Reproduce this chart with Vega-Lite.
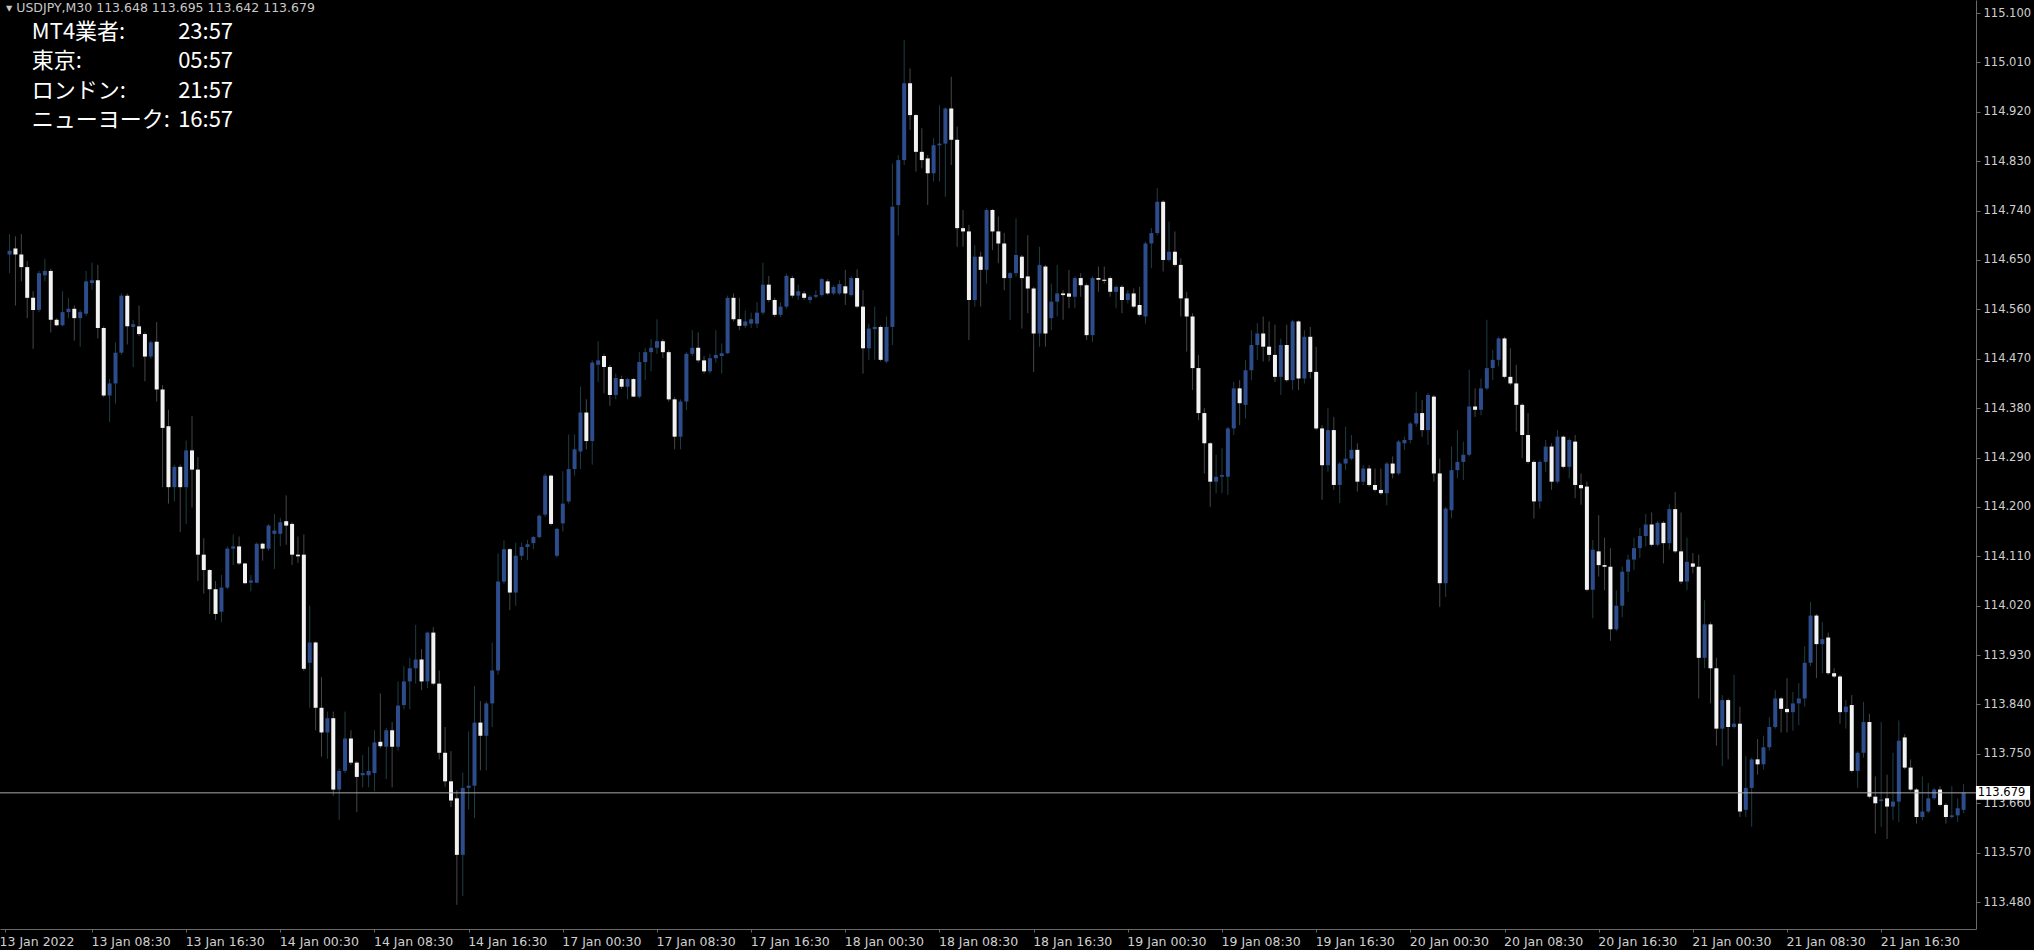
{
"$schema": "https://vega.github.io/schema/vega-lite/v6.json",
"width": 1976, "height": 929,
"autosize": "none",
"padding": {"left": 0, "top": 0, "right": 58, "bottom": 21},
"background": "#000000",
"config": {"view": {"stroke": null}},
"datasets": {"bars": [
{"i":0,"o":114.660,"h":114.697,"l":114.626,"c":114.667},
{"i":1,"o":114.671,"h":114.693,"l":114.567,"c":114.660},
{"i":2,"o":114.660,"h":114.697,"l":114.611,"c":114.637},
{"i":3,"o":114.637,"h":114.648,"l":114.544,"c":114.581},
{"i":4,"o":114.581,"h":114.593,"l":114.488,"c":114.559},
{"i":5,"o":114.559,"h":114.630,"l":114.555,"c":114.626},
{"i":6,"o":114.622,"h":114.652,"l":114.611,"c":114.630},
{"i":7,"o":114.630,"h":114.634,"l":114.518,"c":114.541},
{"i":8,"o":114.541,"h":114.544,"l":114.529,"c":114.531},
{"i":9,"o":114.531,"h":114.593,"l":114.529,"c":114.555},
{"i":10,"o":114.555,"h":114.581,"l":114.544,"c":114.561},
{"i":11,"o":114.561,"h":114.567,"l":114.503,"c":114.544},
{"i":12,"o":114.544,"h":114.559,"l":114.492,"c":114.555},
{"i":13,"o":114.552,"h":114.630,"l":114.548,"c":114.611},
{"i":14,"o":114.608,"h":114.645,"l":114.596,"c":114.613},
{"i":15,"o":114.613,"h":114.641,"l":114.507,"c":114.526},
{"i":16,"o":114.526,"h":114.529,"l":114.400,"c":114.403},
{"i":17,"o":114.403,"h":114.433,"l":114.355,"c":114.425},
{"i":18,"o":114.425,"h":114.500,"l":114.388,"c":114.481},
{"i":19,"o":114.481,"h":114.589,"l":114.477,"c":114.585},
{"i":20,"o":114.585,"h":114.589,"l":114.496,"c":114.529},
{"i":21,"o":114.528,"h":114.541,"l":114.455,"c":114.533},
{"i":22,"o":114.529,"h":114.567,"l":114.511,"c":114.515},
{"i":23,"o":114.515,"h":114.518,"l":114.429,"c":114.474},
{"i":24,"o":114.474,"h":114.503,"l":114.470,"c":114.500},
{"i":25,"o":114.501,"h":114.537,"l":114.392,"c":114.414},
{"i":26,"o":114.414,"h":114.422,"l":114.236,"c":114.344},
{"i":27,"o":114.347,"h":114.377,"l":114.206,"c":114.236},
{"i":28,"o":114.236,"h":114.277,"l":114.210,"c":114.273},
{"i":29,"o":114.273,"h":114.277,"l":114.154,"c":114.236},
{"i":30,"o":114.236,"h":114.321,"l":114.169,"c":114.303},
{"i":31,"o":114.303,"h":114.366,"l":114.199,"c":114.268},
{"i":32,"o":114.268,"h":114.291,"l":114.065,"c":114.113},
{"i":33,"o":114.113,"h":114.143,"l":114.042,"c":114.085},
{"i":34,"o":114.085,"h":114.087,"l":114.005,"c":114.050},
{"i":35,"o":114.050,"h":114.065,"l":113.994,"c":114.005},
{"i":36,"o":114.009,"h":114.076,"l":113.990,"c":114.053},
{"i":37,"o":114.053,"h":114.128,"l":114.050,"c":114.124},
{"i":38,"o":114.124,"h":114.150,"l":114.094,"c":114.128},
{"i":39,"o":114.128,"h":114.146,"l":114.094,"c":114.097},
{"i":40,"o":114.097,"h":114.098,"l":114.059,"c":114.061},
{"i":41,"o":114.062,"h":114.076,"l":114.046,"c":114.066},
{"i":42,"o":114.062,"h":114.135,"l":114.061,"c":114.133},
{"i":43,"o":114.133,"h":114.135,"l":114.102,"c":114.124},
{"i":44,"o":114.124,"h":114.169,"l":114.120,"c":114.166},
{"i":45,"o":114.151,"h":114.187,"l":114.087,"c":114.157},
{"i":46,"o":114.151,"h":114.180,"l":114.128,"c":114.172},
{"i":47,"o":114.174,"h":114.221,"l":114.131,"c":114.166},
{"i":48,"o":114.169,"h":114.172,"l":114.094,"c":114.113},
{"i":49,"o":114.113,"h":114.146,"l":114.098,"c":114.110},
{"i":50,"o":114.113,"h":114.150,"l":113.901,"c":113.905},
{"i":51,"o":113.916,"h":114.020,"l":113.834,"c":113.953},
{"i":52,"o":113.953,"h":113.955,"l":113.793,"c":113.834},
{"i":53,"o":113.834,"h":113.890,"l":113.745,"c":113.789},
{"i":54,"o":113.789,"h":113.827,"l":113.741,"c":113.815},
{"i":55,"o":113.815,"h":113.827,"l":113.674,"c":113.685},
{"i":56,"o":113.685,"h":113.723,"l":113.630,"c":113.719},
{"i":57,"o":113.719,"h":113.827,"l":113.715,"c":113.778},
{"i":58,"o":113.778,"h":113.793,"l":113.730,"c":113.734},
{"i":59,"o":113.734,"h":113.737,"l":113.644,"c":113.708},
{"i":60,"o":113.711,"h":113.748,"l":113.689,"c":113.715},
{"i":61,"o":113.711,"h":113.763,"l":113.689,"c":113.719},
{"i":62,"o":113.715,"h":113.793,"l":113.682,"c":113.771},
{"i":63,"o":113.772,"h":113.860,"l":113.760,"c":113.764},
{"i":64,"o":113.763,"h":113.797,"l":113.704,"c":113.793},
{"i":65,"o":113.793,"h":113.808,"l":113.689,"c":113.763},
{"i":66,"o":113.763,"h":113.882,"l":113.756,"c":113.838},
{"i":67,"o":113.839,"h":113.910,"l":113.831,"c":113.882},
{"i":68,"o":113.882,"h":113.925,"l":113.831,"c":113.906},
{"i":69,"o":113.906,"h":113.985,"l":113.878,"c":113.922},
{"i":70,"o":113.922,"h":113.941,"l":113.866,"c":113.882},
{"i":71,"o":113.882,"h":113.973,"l":113.870,"c":113.971},
{"i":72,"o":113.971,"h":113.981,"l":113.875,"c":113.878},
{"i":73,"o":113.878,"h":113.902,"l":113.740,"c":113.752},
{"i":74,"o":113.752,"h":113.799,"l":113.690,"c":113.700},
{"i":75,"o":113.700,"h":113.755,"l":113.653,"c":113.665},
{"i":76,"o":113.669,"h":113.684,"l":113.475,"c":113.566},
{"i":77,"o":113.566,"h":113.716,"l":113.491,"c":113.688},
{"i":78,"o":113.688,"h":113.791,"l":113.649,"c":113.692},
{"i":79,"o":113.692,"h":113.874,"l":113.633,"c":113.807},
{"i":80,"o":113.807,"h":113.846,"l":113.720,"c":113.783},
{"i":81,"o":113.783,"h":113.846,"l":113.720,"c":113.842},
{"i":82,"o":113.842,"h":113.953,"l":113.799,"c":113.902},
{"i":83,"o":113.902,"h":114.115,"l":113.894,"c":114.064},
{"i":84,"o":114.064,"h":114.139,"l":114.060,"c":114.123},
{"i":85,"o":114.123,"h":114.125,"l":114.012,"c":114.044},
{"i":86,"o":114.044,"h":114.135,"l":114.020,"c":114.111},
{"i":87,"o":114.111,"h":114.135,"l":114.103,"c":114.127},
{"i":88,"o":114.127,"h":114.140,"l":114.103,"c":114.132},
{"i":89,"o":114.134,"h":114.147,"l":114.123,"c":114.145},
{"i":90,"o":114.145,"h":114.186,"l":114.143,"c":114.184},
{"i":91,"o":114.186,"h":114.261,"l":114.182,"c":114.257},
{"i":92,"o":114.257,"h":114.259,"l":114.166,"c":114.169},
{"i":93,"o":114.111,"h":114.162,"l":114.108,"c":114.160},
{"i":94,"o":114.170,"h":114.265,"l":114.155,"c":114.206},
{"i":95,"o":114.210,"h":114.332,"l":114.206,"c":114.269},
{"i":96,"o":114.269,"h":114.332,"l":114.257,"c":114.305},
{"i":97,"o":114.301,"h":114.419,"l":114.269,"c":114.372},
{"i":98,"o":114.372,"h":114.396,"l":114.305,"c":114.320},
{"i":99,"o":114.320,"h":114.467,"l":114.277,"c":114.463},
{"i":100,"o":114.459,"h":114.502,"l":114.427,"c":114.467},
{"i":101,"o":114.475,"h":114.479,"l":114.407,"c":114.455},
{"i":102,"o":114.455,"h":114.459,"l":114.384,"c":114.404},
{"i":103,"o":114.404,"h":114.443,"l":114.396,"c":114.435},
{"i":104,"o":114.433,"h":114.439,"l":114.415,"c":114.419},
{"i":105,"o":114.419,"h":114.435,"l":114.396,"c":114.433},
{"i":106,"o":114.433,"h":114.435,"l":114.400,"c":114.401},
{"i":107,"o":114.401,"h":114.482,"l":114.398,"c":114.464},
{"i":108,"o":114.464,"h":114.490,"l":114.431,"c":114.482},
{"i":109,"o":114.482,"h":114.506,"l":114.447,"c":114.490},
{"i":110,"o":114.490,"h":114.542,"l":114.479,"c":114.502},
{"i":111,"o":114.502,"h":114.506,"l":114.471,"c":114.482},
{"i":112,"o":114.482,"h":114.486,"l":114.392,"c":114.396},
{"i":113,"o":114.396,"h":114.400,"l":114.305,"c":114.328},
{"i":114,"o":114.328,"h":114.396,"l":114.305,"c":114.392},
{"i":115,"o":114.392,"h":114.482,"l":114.376,"c":114.479},
{"i":116,"o":114.479,"h":114.522,"l":114.475,"c":114.490},
{"i":117,"o":114.490,"h":114.518,"l":114.463,"c":114.467},
{"i":118,"o":114.467,"h":114.475,"l":114.443,"c":114.447},
{"i":119,"o":114.447,"h":114.479,"l":114.443,"c":114.471},
{"i":120,"o":114.471,"h":114.522,"l":114.463,"c":114.477},
{"i":121,"o":114.475,"h":114.498,"l":114.443,"c":114.480},
{"i":122,"o":114.480,"h":114.585,"l":114.479,"c":114.581},
{"i":123,"o":114.581,"h":114.589,"l":114.538,"c":114.542},
{"i":124,"o":114.542,"h":114.581,"l":114.522,"c":114.530},
{"i":125,"o":114.530,"h":114.558,"l":114.526,"c":114.538},
{"i":126,"o":114.534,"h":114.554,"l":114.526,"c":114.542},
{"i":127,"o":114.534,"h":114.573,"l":114.526,"c":114.554},
{"i":128,"o":114.554,"h":114.645,"l":114.550,"c":114.605},
{"i":129,"o":114.605,"h":114.621,"l":114.573,"c":114.577},
{"i":130,"o":114.577,"h":114.581,"l":114.546,"c":114.550},
{"i":131,"o":114.550,"h":114.573,"l":114.546,"c":114.565},
{"i":132,"o":114.565,"h":114.625,"l":114.561,"c":114.621},
{"i":133,"o":114.617,"h":114.621,"l":114.581,"c":114.585},
{"i":134,"o":114.585,"h":114.605,"l":114.577,"c":114.593},
{"i":135,"o":114.589,"h":114.593,"l":114.577,"c":114.581},
{"i":136,"o":114.577,"h":114.586,"l":114.571,"c":114.583},
{"i":137,"o":114.583,"h":114.595,"l":114.580,"c":114.586},
{"i":138,"o":114.586,"h":114.617,"l":114.583,"c":114.615},
{"i":139,"o":114.611,"h":114.615,"l":114.586,"c":114.589},
{"i":140,"o":114.589,"h":114.604,"l":114.586,"c":114.601},
{"i":141,"o":114.589,"h":114.613,"l":114.586,"c":114.606},
{"i":142,"o":114.602,"h":114.632,"l":114.568,"c":114.589},
{"i":143,"o":114.586,"h":114.620,"l":114.583,"c":114.617},
{"i":144,"o":114.617,"h":114.633,"l":114.562,"c":114.565},
{"i":145,"o":114.565,"h":114.595,"l":114.443,"c":114.489},
{"i":146,"o":114.489,"h":114.534,"l":114.468,"c":114.525},
{"i":147,"o":114.524,"h":114.565,"l":114.468,"c":114.528},
{"i":148,"o":114.528,"h":114.531,"l":114.465,"c":114.468},
{"i":149,"o":114.465,"h":114.547,"l":114.462,"c":114.528},
{"i":150,"o":114.528,"h":114.826,"l":114.495,"c":114.747},
{"i":151,"o":114.750,"h":114.841,"l":114.695,"c":114.832},
{"i":152,"o":114.832,"h":115.051,"l":114.823,"c":114.972},
{"i":153,"o":114.972,"h":114.999,"l":114.887,"c":114.914},
{"i":154,"o":114.914,"h":114.916,"l":114.811,"c":114.847},
{"i":155,"o":114.847,"h":114.890,"l":114.817,"c":114.832},
{"i":156,"o":114.835,"h":114.841,"l":114.750,"c":114.808},
{"i":157,"o":114.808,"h":114.872,"l":114.793,"c":114.859},
{"i":158,"o":114.859,"h":114.932,"l":114.793,"c":114.862},
{"i":159,"o":114.862,"h":114.928,"l":114.765,"c":114.926},
{"i":160,"o":114.926,"h":114.984,"l":114.823,"c":114.869},
{"i":161,"o":114.869,"h":114.893,"l":114.674,"c":114.708},
{"i":162,"o":114.708,"h":114.741,"l":114.674,"c":114.702},
{"i":163,"o":114.702,"h":114.714,"l":114.504,"c":114.577},
{"i":164,"o":114.577,"h":114.677,"l":114.565,"c":114.656},
{"i":165,"o":114.656,"h":114.665,"l":114.565,"c":114.632},
{"i":166,"o":114.632,"h":114.744,"l":114.607,"c":114.741},
{"i":167,"o":114.741,"h":114.743,"l":114.668,"c":114.702},
{"i":168,"o":114.702,"h":114.729,"l":114.644,"c":114.680},
{"i":169,"o":114.680,"h":114.699,"l":114.595,"c":114.617},
{"i":170,"o":114.617,"h":114.628,"l":114.541,"c":114.626},
{"i":171,"o":114.626,"h":114.726,"l":114.620,"c":114.659},
{"i":172,"o":114.656,"h":114.659,"l":114.525,"c":114.617},
{"i":173,"o":114.620,"h":114.695,"l":114.553,"c":114.598},
{"i":174,"o":114.598,"h":114.601,"l":114.446,"c":114.516},
{"i":175,"o":114.516,"h":114.674,"l":114.492,"c":114.641},
{"i":176,"o":114.638,"h":114.641,"l":114.492,"c":114.516},
{"i":177,"o":114.544,"h":114.607,"l":114.522,"c":114.574},
{"i":178,"o":114.574,"h":114.641,"l":114.547,"c":114.589},
{"i":179,"o":114.589,"h":114.595,"l":114.541,"c":114.586},
{"i":180,"o":114.589,"h":114.632,"l":114.562,"c":114.583},
{"i":181,"o":114.583,"h":114.620,"l":114.562,"c":114.617},
{"i":182,"o":114.617,"h":114.626,"l":114.583,"c":114.604},
{"i":183,"o":114.604,"h":114.607,"l":114.504,"c":114.513},
{"i":184,"o":114.513,"h":114.620,"l":114.501,"c":114.617},
{"i":185,"o":114.617,"h":114.638,"l":114.592,"c":114.614},
{"i":186,"o":114.614,"h":114.638,"l":114.607,"c":114.612},
{"i":187,"o":114.617,"h":114.620,"l":114.583,"c":114.592},
{"i":188,"o":114.592,"h":114.604,"l":114.562,"c":114.601},
{"i":189,"o":114.601,"h":114.604,"l":114.553,"c":114.577},
{"i":190,"o":114.577,"h":114.595,"l":114.571,"c":114.589},
{"i":191,"o":114.589,"h":114.598,"l":114.562,"c":114.565},
{"i":192,"o":114.568,"h":114.601,"l":114.547,"c":114.550},
{"i":193,"o":114.547,"h":114.683,"l":114.534,"c":114.680},
{"i":194,"o":114.680,"h":114.708,"l":114.635,"c":114.699},
{"i":195,"o":114.699,"h":114.781,"l":114.695,"c":114.756},
{"i":196,"o":114.756,"h":114.759,"l":114.629,"c":114.650},
{"i":197,"o":114.650,"h":114.720,"l":114.647,"c":114.665},
{"i":198,"o":114.665,"h":114.702,"l":114.638,"c":114.641},
{"i":199,"o":114.641,"h":114.653,"l":114.547,"c":114.580},
{"i":200,"o":114.580,"h":114.592,"l":114.483,"c":114.547},
{"i":201,"o":114.547,"h":114.553,"l":114.413,"c":114.453},
{"i":202,"o":114.453,"h":114.477,"l":114.358,"c":114.371},
{"i":203,"o":114.371,"h":114.380,"l":114.261,"c":114.316},
{"i":204,"o":114.316,"h":114.318,"l":114.200,"c":114.246},
{"i":205,"o":114.246,"h":114.295,"l":114.225,"c":114.255},
{"i":206,"o":114.255,"h":114.307,"l":114.225,"c":114.258},
{"i":207,"o":114.255,"h":114.346,"l":114.222,"c":114.343},
{"i":208,"o":114.343,"h":114.428,"l":114.331,"c":114.416},
{"i":209,"o":114.416,"h":114.431,"l":114.349,"c":114.389},
{"i":210,"o":114.386,"h":114.468,"l":114.361,"c":114.449},
{"i":211,"o":114.449,"h":114.522,"l":114.431,"c":114.495},
{"i":212,"o":114.495,"h":114.535,"l":114.468,"c":114.516},
{"i":213,"o":114.516,"h":114.547,"l":114.465,"c":114.492},
{"i":214,"o":114.492,"h":114.538,"l":114.465,"c":114.477},
{"i":215,"o":114.477,"h":114.532,"l":114.428,"c":114.437},
{"i":216,"o":114.437,"h":114.507,"l":114.404,"c":114.495},
{"i":217,"o":114.495,"h":114.532,"l":114.428,"c":114.431},
{"i":218,"o":114.431,"h":114.541,"l":114.413,"c":114.538},
{"i":219,"o":114.538,"h":114.540,"l":114.413,"c":114.434},
{"i":220,"o":114.434,"h":114.522,"l":114.425,"c":114.510},
{"i":221,"o":114.510,"h":114.528,"l":114.434,"c":114.446},
{"i":222,"o":114.446,"h":114.492,"l":114.340,"c":114.343},
{"i":223,"o":114.343,"h":114.349,"l":114.213,"c":114.276},
{"i":224,"o":114.276,"h":114.380,"l":114.264,"c":114.340},
{"i":225,"o":114.340,"h":114.364,"l":114.231,"c":114.240},
{"i":226,"o":114.240,"h":114.282,"l":114.207,"c":114.279},
{"i":227,"o":114.279,"h":114.346,"l":114.267,"c":114.288},
{"i":228,"o":114.288,"h":114.331,"l":114.285,"c":114.304},
{"i":229,"o":114.304,"h":114.316,"l":114.228,"c":114.246},
{"i":230,"o":114.246,"h":114.276,"l":114.240,"c":114.270},
{"i":231,"o":114.270,"h":114.276,"l":114.237,"c":114.240},
{"i":232,"o":114.240,"h":114.270,"l":114.228,"c":114.231},
{"i":233,"o":114.231,"h":114.270,"l":114.222,"c":114.225},
{"i":234,"o":114.225,"h":114.282,"l":114.203,"c":114.279},
{"i":235,"o":114.279,"h":114.292,"l":114.252,"c":114.261},
{"i":236,"o":114.261,"h":114.322,"l":114.258,"c":114.319},
{"i":237,"o":114.316,"h":114.328,"l":114.304,"c":114.322},
{"i":238,"o":114.322,"h":114.355,"l":114.316,"c":114.352},
{"i":239,"o":114.352,"h":114.410,"l":114.346,"c":114.371},
{"i":240,"o":114.371,"h":114.395,"l":114.328,"c":114.340},
{"i":241,"o":114.340,"h":114.407,"l":114.313,"c":114.404},
{"i":242,"o":114.401,"h":114.404,"l":114.246,"c":114.261},
{"i":243,"o":114.261,"h":114.288,"l":114.018,"c":114.061},
{"i":244,"o":114.061,"h":114.200,"l":114.036,"c":114.197},
{"i":245,"o":114.194,"h":114.310,"l":114.179,"c":114.267},
{"i":246,"o":114.267,"h":114.340,"l":114.252,"c":114.282},
{"i":247,"o":114.282,"h":114.319,"l":114.249,"c":114.295},
{"i":248,"o":114.295,"h":114.450,"l":114.292,"c":114.383},
{"i":249,"o":114.383,"h":114.416,"l":114.364,"c":114.377},
{"i":250,"o":114.377,"h":114.434,"l":114.367,"c":114.416},
{"i":251,"o":114.416,"h":114.541,"l":114.413,"c":114.453},
{"i":252,"o":114.453,"h":114.486,"l":114.431,"c":114.468},
{"i":253,"o":114.468,"h":114.510,"l":114.456,"c":114.507},
{"i":254,"o":114.507,"h":114.510,"l":114.434,"c":114.437},
{"i":255,"o":114.437,"h":114.489,"l":114.422,"c":114.425},
{"i":256,"o":114.425,"h":114.459,"l":114.337,"c":114.386},
{"i":257,"o":114.386,"h":114.389,"l":114.289,"c":114.331},
{"i":258,"o":114.331,"h":114.371,"l":114.279,"c":114.282},
{"i":259,"o":114.282,"h":114.285,"l":114.179,"c":114.210},
{"i":260,"o":114.210,"h":114.285,"l":114.197,"c":114.282},
{"i":261,"o":114.282,"h":114.322,"l":114.264,"c":114.310},
{"i":262,"o":114.310,"h":114.316,"l":114.231,"c":114.246},
{"i":263,"o":114.246,"h":114.340,"l":114.243,"c":114.328},
{"i":264,"o":114.328,"h":114.330,"l":114.270,"c":114.273},
{"i":265,"o":114.273,"h":114.325,"l":114.252,"c":114.322},
{"i":266,"o":114.319,"h":114.331,"l":114.216,"c":114.240},
{"i":267,"o":114.240,"h":114.261,"l":114.204,"c":114.234},
{"i":268,"o":114.237,"h":114.246,"l":114.046,"c":114.049},
{"i":269,"o":114.049,"h":114.140,"l":113.997,"c":114.122},
{"i":270,"o":114.119,"h":114.185,"l":114.073,"c":114.094},
{"i":271,"o":114.094,"h":114.144,"l":114.048,"c":114.091},
{"i":272,"o":114.091,"h":114.125,"l":113.956,"c":113.977},
{"i":273,"o":113.977,"h":114.048,"l":113.974,"c":114.020},
{"i":274,"o":114.020,"h":114.091,"l":113.999,"c":114.082},
{"i":275,"o":114.082,"h":114.113,"l":114.045,"c":114.104},
{"i":276,"o":114.104,"h":114.144,"l":114.085,"c":114.125},
{"i":277,"o":114.125,"h":114.162,"l":114.107,"c":114.147},
{"i":278,"o":114.147,"h":114.187,"l":114.128,"c":114.168},
{"i":279,"o":114.168,"h":114.190,"l":114.128,"c":114.131},
{"i":280,"o":114.131,"h":114.174,"l":114.128,"c":114.171},
{"i":281,"o":114.171,"h":114.174,"l":114.097,"c":114.134},
{"i":282,"o":114.134,"h":114.205,"l":114.122,"c":114.196},
{"i":283,"o":114.196,"h":114.227,"l":114.116,"c":114.119},
{"i":284,"o":114.119,"h":114.190,"l":114.060,"c":114.064},
{"i":285,"o":114.064,"h":114.144,"l":114.048,"c":114.100},
{"i":286,"o":114.097,"h":114.116,"l":114.079,"c":114.091},
{"i":287,"o":114.091,"h":114.113,"l":113.851,"c":113.925},
{"i":288,"o":113.925,"h":114.030,"l":113.906,"c":113.986},
{"i":289,"o":113.986,"h":113.990,"l":113.842,"c":113.906},
{"i":290,"o":113.906,"h":113.925,"l":113.765,"c":113.796},
{"i":291,"o":113.796,"h":113.857,"l":113.728,"c":113.848},
{"i":292,"o":113.848,"h":113.851,"l":113.740,"c":113.799},
{"i":293,"o":113.799,"h":113.894,"l":113.796,"c":113.805},
{"i":294,"o":113.805,"h":113.836,"l":113.635,"c":113.645},
{"i":295,"o":113.648,"h":113.746,"l":113.635,"c":113.688},
{"i":296,"o":113.688,"h":113.743,"l":113.617,"c":113.740},
{"i":297,"o":113.740,"h":113.777,"l":113.712,"c":113.731},
{"i":298,"o":113.731,"h":113.783,"l":113.722,"c":113.762},
{"i":299,"o":113.762,"h":113.817,"l":113.756,"c":113.799},
{"i":300,"o":113.799,"h":113.866,"l":113.796,"c":113.851},
{"i":301,"o":113.851,"h":113.854,"l":113.789,"c":113.832},
{"i":302,"o":113.832,"h":113.888,"l":113.789,"c":113.826},
{"i":303,"o":113.826,"h":113.863,"l":113.792,"c":113.842},
{"i":304,"o":113.842,"h":113.879,"l":113.802,"c":113.851},
{"i":305,"o":113.851,"h":113.946,"l":113.836,"c":113.916},
{"i":306,"o":113.916,"h":114.027,"l":113.910,"c":114.002},
{"i":307,"o":114.002,"h":114.005,"l":113.888,"c":113.950},
{"i":308,"o":113.950,"h":113.990,"l":113.897,"c":113.959},
{"i":309,"o":113.962,"h":113.971,"l":113.894,"c":113.897},
{"i":310,"o":113.897,"h":113.906,"l":113.888,"c":113.891},
{"i":311,"o":113.891,"h":113.894,"l":113.805,"c":113.826},
{"i":312,"o":113.826,"h":113.848,"l":113.796,"c":113.836},
{"i":313,"o":113.839,"h":113.857,"l":113.716,"c":113.719},
{"i":314,"o":113.719,"h":113.755,"l":113.688,"c":113.752},
{"i":315,"o":113.752,"h":113.845,"l":113.743,"c":113.808},
{"i":316,"o":113.808,"h":113.823,"l":113.669,"c":113.672},
{"i":317,"o":113.672,"h":113.709,"l":113.605,"c":113.660},
{"i":318,"o":113.664,"h":113.808,"l":113.617,"c":113.667},
{"i":319,"o":113.669,"h":113.712,"l":113.595,"c":113.654},
{"i":320,"o":113.654,"h":113.752,"l":113.629,"c":113.663},
{"i":321,"o":113.663,"h":113.811,"l":113.626,"c":113.774},
{"i":322,"o":113.780,"h":113.786,"l":113.722,"c":113.725},
{"i":323,"o":113.725,"h":113.740,"l":113.682,"c":113.685},
{"i":324,"o":113.685,"h":113.688,"l":113.623,"c":113.635},
{"i":325,"o":113.635,"h":113.709,"l":113.629,"c":113.645},
{"i":326,"o":113.645,"h":113.697,"l":113.642,"c":113.669},
{"i":327,"o":113.669,"h":113.688,"l":113.666,"c":113.685},
{"i":328,"o":113.685,"h":113.691,"l":113.654,"c":113.657},
{"i":329,"o":113.657,"h":113.660,"l":113.623,"c":113.635},
{"i":330,"o":113.635,"h":113.691,"l":113.632,"c":113.638},
{"i":331,"o":113.638,"h":113.669,"l":113.626,"c":113.651},
{"i":332,"o":113.648,"h":113.695,"l":113.642,"c":113.679}
]},
"layer": [
{"data": {"name": "bars"},
 "mark": {"type": "rule", "strokeWidth": 1},
 "encoding": {
  "x": {"field": "i", "type": "quantitative",
        "scale": {"domain": [-0.775, 333.26], "nice": false, "zero": false},
        "axis": {"orient": "bottom", "title": null, "grid": false, "zindex": 0,
                 "values": [-0.77,14,30,46,62,78,94,110,126,142,158,174,190,206,222,238,254,270,286,302,318],
                 "labelExpr": "datum.value < 0 ? '13 Jan 2022' : ['13 Jan 08:30','13 Jan 16:30','14 Jan 00:30','14 Jan 08:30','14 Jan 16:30','17 Jan 00:30','17 Jan 08:30','17 Jan 16:30','18 Jan 00:30','18 Jan 08:30','18 Jan 16:30','19 Jan 00:30','19 Jan 08:30','19 Jan 16:30','20 Jan 00:30','20 Jan 08:30','20 Jan 16:30','21 Jan 00:30','21 Jan 08:30','21 Jan 16:30'][(datum.value - 14) / 16]",
                 "labelOffset": {"condition": {"test": "datum.value < 0", "value": -6}, "value": -1},
                 "labelAlign": "left", "labelBaseline": "top", "labelPadding": 3, "tickSize": 3,
                 "labelOverlap": false, "labelFlush": false, "labelBound": false,
                 "domainColor": "#6a6a6a", "tickColor": "#6a6a6a", "labelColor": "#d0d0d0",
                 "labelFont": "DejaVu Sans", "labelFontSize": 12.5}},
  "y": {"field": "l", "type": "quantitative",
        "scale": {"domain": [113.4309, 115.1237], "nice": false, "zero": false},
        "axis": {"orient": "right", "title": null, "grid": false, "zindex": 0,
                 "values": [115.1,115.01,114.92,114.83,114.74,114.65,114.56,114.47,114.38,114.29,114.2,114.11,114.02,113.93,113.84,113.75,113.66,113.57,113.48],
                 "format": ".3f", "labelBaseline": "middle", "labelPadding": 3, "tickSize": 4,
                 "labelOverlap": false, "labelFlush": false, "labelBound": false,
                 "domainColor": "#6a6a6a", "tickColor": "#6a6a6a", "labelColor": "#d0d0d0",
                 "labelFont": "DejaVu Sans", "labelFontSize": 11.5}},
  "y2": {"field": "h"},
  "color": {"condition": {"test": "datum.c >= datum.o", "value": "#1f3d44"}, "value": "#474747"}
 }},
{"data": {"name": "bars"},
 "mark": {"type": "bar", "size": 4},
 "encoding": {
  "x": {"field": "i", "type": "quantitative"},
  "y": {"field": "o", "type": "quantitative"},
  "y2": {"field": "c"},
  "color": {"condition": {"test": "datum.c >= datum.o", "value": "#2d4c8c"}, "value": "#f2f2f2"}
 }},
{"data": {"values": [{}]},
 "mark": {"type": "rule", "color": "#a8a8a8", "strokeWidth": 1},
 "encoding": {"y": {"datum": 113.679}}},
{"data": {"values": [{}]},
 "mark": {"type": "rect", "color": "#ffffff"},
 "encoding": {"x": {"datum": 334.1}, "x2": {"datum": 343.3}, "y": {"datum": 113.6915}, "y2": {"datum": 113.6665}}},
{"data": {"values": [{"price": "113.679"}]},
 "mark": {"type": "text", "align": "left", "baseline": "middle", "font": "DejaVu Sans", "fontSize": 11.5, "color": "#000000"},
 "encoding": {"x": {"datum": 334.4}, "y": {"datum": 113.679}, "text": {"field": "price"}}},
{"data": {"values": [{"t": "▾  USDJPY,M30   113.648 113.695 113.642 113.679"}]},
 "mark": {"type": "text", "align": "left", "baseline": "middle", "font": "DejaVu Sans", "fontSize": 12.5, "color": "#c8c8c8"},
 "encoding": {"x": {"datum": -0.6}, "y": {"datum": 115.1091}, "text": {"field": "t"}}},
{"data": {"values": [{"names": ["MT4業者:", "東京:", "ロンドン:", "ニューヨーク:"]}]},
 "mark": {"type": "text", "align": "left", "baseline": "alphabetic", "font": "Noto Sans CJK JP", "fontSize": 22, "lineHeight": 29.2, "color": "#ffffff"},
 "encoding": {"x": {"datum": 3.79}, "y": {"datum": 115.0521}, "text": {"field": "names"}}},
{"data": {"values": [{"times": ["23:57", "05:57", "21:57", "16:57"]}]},
 "mark": {"type": "text", "align": "left", "baseline": "alphabetic", "font": "Noto Sans CJK JP", "fontSize": 22, "lineHeight": 29.2, "color": "#ffffff"},
 "encoding": {"x": {"datum": 28.64}, "y": {"datum": 115.0521}, "text": {"field": "times"}}}
]
}
